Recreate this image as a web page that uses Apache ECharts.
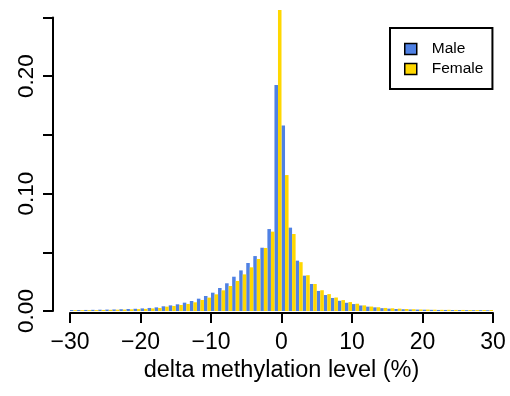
<!DOCTYPE html>
<html>
<head>
<meta charset="utf-8">
<script src="https://cdn.jsdelivr.net/npm/echarts@6/dist/echarts.min.js"></script>
<style>
  html, body { margin: 0; padding: 0; background: #fff; }
  #chart { width: 510px; height: 396px; }
</style>
</head>
<body>
<div id="chart"></div>
<script>
// Left edges of the 1%-wide bins, -30 .. 29
const binStarts = [];
for (let b = -30; b < 30; b++) binStarts.push(b);

// Proportion of sites per bin
const male = [
  0.0008, 0.0008, 0.0009, 0.0010, 0.0011, 0.0012, 0.0013, 0.0015, 0.0017, 0.0019,
  0.0022, 0.0026, 0.0031, 0.0040, 0.0048, 0.0057, 0.0071, 0.0085, 0.0105, 0.0128,
  0.0156, 0.0196, 0.0236, 0.0292, 0.0346, 0.0409, 0.0468, 0.0539, 0.0698, 0.1925,
  0.1580, 0.0710, 0.0429, 0.0301, 0.0230, 0.0171, 0.0136, 0.0111, 0.0087, 0.0070,
  0.0059, 0.0047, 0.0037, 0.0031, 0.0024, 0.0020, 0.0017, 0.0015, 0.0013, 0.0012,
  0.0011, 0.0010, 0.0009, 0.0009, 0.0008, 0.0008, 0.0007, 0.0007, 0.0007, 0.0006
];
const female = [
  0.0007, 0.0007, 0.0008, 0.0008, 0.0009, 0.0010, 0.0011, 0.0012, 0.0014, 0.0016,
  0.0018, 0.0022, 0.0026, 0.0037, 0.0043, 0.0051, 0.0060, 0.0074, 0.0094, 0.0114,
  0.0142, 0.0176, 0.0213, 0.0256, 0.0312, 0.0372, 0.0443, 0.0537, 0.0676, 0.2564,
  0.1158, 0.0656, 0.0416, 0.0305, 0.0230, 0.0177, 0.0144, 0.0115, 0.0093, 0.0076,
  0.0062, 0.0048, 0.0038, 0.0032, 0.0026, 0.0023, 0.0020, 0.0017, 0.0015, 0.0013,
  0.0012, 0.0011, 0.0010, 0.0010, 0.0009, 0.0009, 0.0008, 0.0008, 0.0008, 0.0008
];

// Axis ticks; only some y ticks carry a label
const xTicks = [-30, -20, -10, 0, 10, 20, 30];
const yTicks = [0, 0.05, 0.10, 0.15, 0.20, 0.25];
const yTickLabels = ['0.00', '', '0.10', '', '0.20', ''];

const seriesNames = ['Male', 'Female'];
const colors = ['#4f81e4', '#ffd700'];
const font = '"Liberation Sans", Arial, Helvetica, sans-serif';

const chart = echarts.init(document.getElementById('chart'), null, { renderer: 'canvas' });

chart.setOption({
  animation: false,
  backgroundColor: '#ffffff',
  grid: { left: 70, right: 17, top: 17.5, bottom: 85, containLabel: false },
  xAxis: [
    {
      type: 'category',
      data: binStarts.map(String),
      boundaryGap: true,
      show: false
    },
    {
      type: 'value',
      position: 'bottom',
      min: xTicks[0],
      max: xTicks[xTicks.length - 1],
      interval: 10,
      offset: 2,
      axisLine: { show: true, onZero: false, lineStyle: { color: '#000', width: 2 } },
      axisTick: { show: true, inside: false, length: 10, lineStyle: { color: '#000', width: 2 } },
      splitLine: { show: false },
      axisLabel: {
        margin: 18,
        fontSize: 23,
        fontFamily: font,
        color: '#000',
        formatter: v => (v < 0 ? '\u2212' + Math.abs(v) : String(v))
      },
      name: 'delta methylation level (%)',
      nameLocation: 'middle',
      nameGap: 43,
      nameTextStyle: { fontSize: 23.5, fontFamily: font, color: '#000' }
    }
  ],
  yAxis: {
    type: 'value',
    min: yTicks[0],
    max: yTicks[yTicks.length - 1],
    interval: 0.05,
    offset: 17,
    axisLine: { show: true, onZero: false, lineStyle: { color: '#000', width: 2 } },
    axisTick: { show: true, inside: false, length: 10, lineStyle: { color: '#000', width: 2 } },
    splitLine: { show: false },
    axisLabel: {
      rotate: 90,
      margin: 15,
      fontSize: 22.5,
      fontFamily: font,
      color: '#000',
      formatter: v => {
        const i = yTicks.findIndex(t => Math.abs(t - v) < 1e-9);
        return i >= 0 ? yTickLabels[i] : '';
      }
    }
  },
  legend: {
    orient: 'vertical',
    left: 390,
    top: 28,
    padding: [13, 9, 12, 14],
    borderColor: '#000',
    borderWidth: 2,
    borderRadius: 0,
    itemWidth: 12,
    itemHeight: 11,
    itemGap: 4,
    icon: 'rect',
    itemStyle: { borderColor: '#000', borderWidth: 1.5 },
    textStyle: { fontSize: 15.5, fontFamily: font, color: '#000', padding: [0, 0, 0, 10] },
    data: seriesNames
  },
  series: [
    {
      name: seriesNames[0],
      type: 'bar',
      xAxisIndex: 0,
      data: male,
      barGap: '0%',
      barCategoryGap: '0%',
      clip: false,
      itemStyle: { color: colors[0] }
    },
    {
      name: seriesNames[1],
      type: 'bar',
      xAxisIndex: 0,
      data: female,
      barGap: '0%',
      barCategoryGap: '0%',
      clip: false,
      itemStyle: { color: colors[1] }
    }
  ]
});
</script>
</body>
</html>
